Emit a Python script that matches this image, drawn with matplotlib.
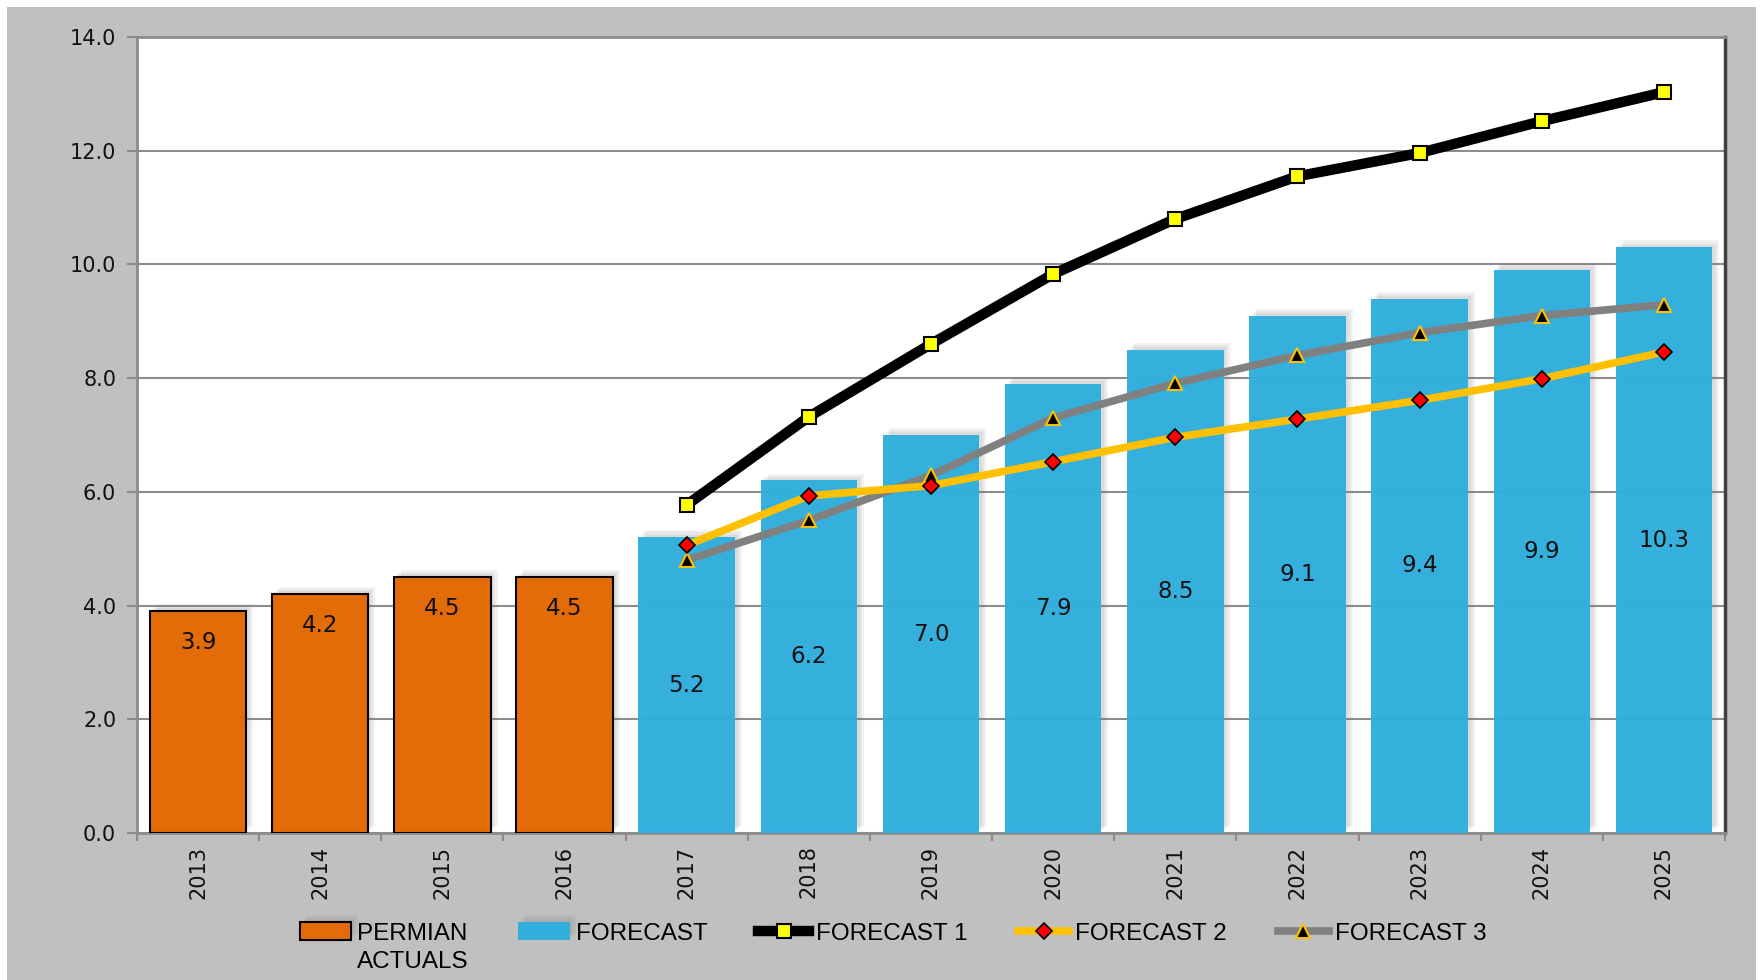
import numpy as np
import matplotlib
matplotlib.use("Agg")
import matplotlib.pyplot as plt
import matplotlib.patheffects as pe
from matplotlib.patches import Rectangle

years = ["2013", "2014", "2015", "2016", "2017", "2018", "2019",
         "2020", "2021", "2022", "2023", "2024", "2025"]
actuals = [3.9, 4.2, 4.5, 4.5]
forecast = [5.2, 6.2, 7.0, 7.9, 8.5, 9.1, 9.4, 9.9, 10.3]
forecast1 = [5.77, 7.32, 8.60, 9.83, 10.80, 11.55, 11.96, 12.52, 13.03]
forecast2 = [5.06, 5.93, 6.11, 6.53, 6.96, 7.28, 7.61, 7.99, 8.46]
forecast3 = [4.80, 5.50, 6.29, 7.30, 7.91, 8.40, 8.80, 9.10, 9.29]

x = np.arange(len(years))
xa = x[:len(actuals)]
xf = x[len(actuals):]

fig = plt.figure(figsize=(17.62, 9.8), dpi=100, facecolor="white")
fig.patches.append(Rectangle((7 / 1762, 0), (1756 - 7) / 1762, 1 - 7 / 980,
                             transform=fig.transFigure, facecolor="#C0C0C0",
                             edgecolor="none", zorder=-10))
ax = fig.add_axes([137 / 1762, 1 - 833 / 980, (1725 - 137) / 1762, (833 - 37) / 980])
ax.set_facecolor("white")

# soft shadow: a few stacked translucent copies
shadow = [pe.SimplePatchShadow(offset=(o, o), shadow_rgbFace="#808080", alpha=0.1)
          for o in (2, 3.5, 5)] + [pe.Normal()]

b1 = ax.bar(xa, actuals, width=0.79, color="#E36C09", edgecolor="black", linewidth=1.5,
            zorder=3, path_effects=shadow)
b2 = ax.bar(xf, forecast, width=0.79, color="#2FAFDE", alpha=0.97, edgecolor="none",
            zorder=3, path_effects=shadow)

for xi, v in zip(xa, actuals):
    ax.text(xi, v - 0.55, f"{v:.1f}", ha="center", va="center", fontsize=16.5,
            color="#111111", zorder=6)
for xi, v in zip(xf, forecast):
    ax.text(xi, v / 2, f"{v:.1f}", ha="center", va="center", fontsize=16.5,
            color="#111111", zorder=6)

l1, = ax.plot(xf, forecast1, color="black", lw=7.5, marker="s", ms=10, mfc="#FFFF00",
              mec="black", mew=1.5, zorder=5)
l2, = ax.plot(xf, forecast2, color="#FFC000", lw=5.5, marker="D", ms=8.5, mfc="#FF0000",
              mec="black", mew=1.2, zorder=5)
l3, = ax.plot(xf, forecast3, color="#808080", lw=5.5, marker="^", ms=10, mfc="black",
              mec="#FFC000", mew=1.5, zorder=4)

ax.set_xlim(-0.5, len(years) - 0.5)
ax.set_ylim(0, 14)
ax.set_yticks(np.arange(0, 14.1, 2))
ax.set_yticklabels([f"{v:.1f}" for v in np.arange(0, 14.1, 2)])
ax.set_xticks(x)
ax.set_xticklabels(years, rotation=90)
ax.set_xticks(np.arange(-0.5, len(years)), minor=True)
ax.tick_params(axis="x", which="major", length=0, pad=9, labelsize=15, labelcolor="#111111")
ax.tick_params(axis="x", which="minor", length=6, width=1.5, color="#8c8c8c")
ax.tick_params(axis="y", length=7, width=1.5, color="#8c8c8c", pad=8,
               labelsize=15, labelcolor="#111111")

ax.grid(axis="y", color="#8c8c8c", lw=1.5, zorder=1)
ax.set_axisbelow(True)
for s in ["left", "bottom", "top"]:
    ax.spines[s].set_color("#8c8c8c")
    ax.spines[s].set_linewidth(2)
ax.spines["right"].set_color("#404040")
ax.spines["right"].set_linewidth(2.5)

leg_font = {"family": ["Liberation Sans", "DejaVu Sans"], "size": 17.5}
leg = fig.legend([b1, b2, l1, l2, l3],
                 ["PERMIAN", "FORECAST", "FORECAST 1", "FORECAST 2", "FORECAST 3"],
                 loc="upper center", bbox_to_anchor=(0.507, 1 - 900 / 980), ncol=5,
                 frameon=False, numpoints=1, handlelength=2.1, handleheight=0.8,
                 handletextpad=0.25, columnspacing=2.1, prop=leg_font)

# second line of the first legend label, under "PERMIAN"
fig.canvas.draw()
bb = leg.get_texts()[0].get_window_extent().transformed(fig.transFigure.inverted())
fig.text(bb.x0, bb.y0 - 0.007, "ACTUALS", ha="left", va="top",
         family=leg_font["family"], fontsize=leg_font["size"])

fig.savefig("out.png", dpi=100, facecolor=fig.get_facecolor())
